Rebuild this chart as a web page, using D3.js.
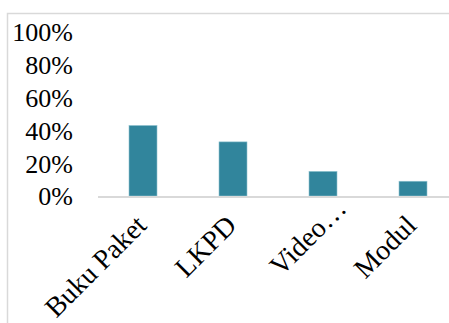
<!DOCTYPE html>
<html><head><meta charset="utf-8">
<script src="https://cdn.jsdelivr.net/npm/d3@7"></script>
<style>body{margin:0;background:#fff}svg{display:block}</style>
</head><body>
<script>
const categories = ["Buku Paket", "LKPD", "Video…", "Modul"];
const values = [0.43, 0.33, 0.15, 0.09];
const yTicks = [0, 0.2, 0.4, 0.6, 0.8, 1.0];

const W = 449, H = 323;
const svg = d3.select("body").append("svg").attr("width", W).attr("height", H);

// outer border
svg.append("path").attr("d", `M7.5,${H} V13.5 H${W}`).attr("fill","none").attr("stroke","#d9d9d9").attr("stroke-width",1.5);

const x = d3.scaleBand().domain(categories).range([98, 458]).paddingInner(0).paddingOuter(0);
const y = d3.scaleLinear().domain([0, 1]).range([196, 32]);
const bw = 28;

svg.append("g").selectAll("rect").data(values).join("rect")
  .attr("x", (d,i) => x(categories[i]) + x.bandwidth()/2 - bw/2)
  .attr("y", d => y(d))
  .attr("width", bw)
  .attr("height", d => y(0) - y(d))
  .attr("fill", "#31859c")
  .attr("stroke", "#8fc3d0").attr("stroke-width", 0.6);

// baseline
svg.append("line").attr("x1", 98).attr("x2", W).attr("y1", y(0)+1).attr("y2", y(0)+1)
  .attr("stroke", "#d9d9d9").attr("stroke-width", 2);

const font = "Liberation Serif, Times New Roman, serif";
const yAxis = d3.axisLeft(y).tickValues(yTicks).tickFormat(d3.format(".0%")).tickSize(0).tickPadding(0);
const ga = svg.append("g").attr("transform", "translate(73,0)").call(yAxis);
ga.select(".domain").remove();
ga.selectAll("text").attr("font-family", font).attr("font-size", 26).attr("fill", "#000").attr("dy", "0.34em");

const xAxis = d3.axisBottom(x).tickSize(0).tickPadding(0);
const gx = svg.append("g").attr("transform", `translate(0,${y(0)})`).call(xAxis);
gx.select(".domain").remove();
gx.selectAll("text")
  .attr("font-family", font).attr("font-size", 28).attr("fill", "#000")
  .attr("text-anchor", "end").attr("dy", null)
  .attr("transform", d => d.endsWith("…") ? "translate(25,14) rotate(-45)" : "translate(5,31) rotate(-45)");
</script>
</body></html>
